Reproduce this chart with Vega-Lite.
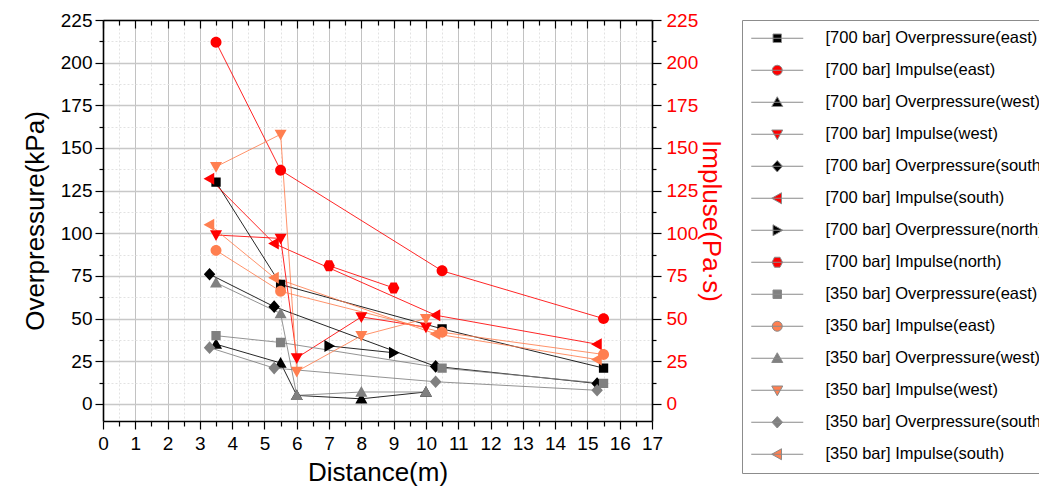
{
  "$schema": "https://vega.github.io/schema/vega-lite/v6.json",
  "autosize": "none",
  "width": 549,
  "height": 401,
  "padding": {"left": 103, "top": 20, "right": 387, "bottom": 82},
  "background": "white",
  "config": {
    "font": "'Liberation Sans', Arial, sans-serif",
    "view": {"stroke": null}
  },
  "data": {
    "values": [
      {"series": "[700 bar] Overpressure(east)", "distance": 3.5, "value": 130},
      {"series": "[700 bar] Overpressure(east)", "distance": 5.5, "value": 70},
      {"series": "[700 bar] Overpressure(east)", "distance": 10.5, "value": 44},
      {"series": "[700 bar] Overpressure(east)", "distance": 15.5, "value": 21},
      {"series": "[700 bar] Impulse(east)", "distance": 3.5, "value": 212},
      {"series": "[700 bar] Impulse(east)", "distance": 5.5, "value": 137},
      {"series": "[700 bar] Impulse(east)", "distance": 10.5, "value": 78},
      {"series": "[700 bar] Impulse(east)", "distance": 15.5, "value": 50},
      {"series": "[700 bar] Overpressure(west)", "distance": 3.5, "value": 35},
      {"series": "[700 bar] Overpressure(west)", "distance": 5.5, "value": 24},
      {"series": "[700 bar] Overpressure(west)", "distance": 6, "value": 5},
      {"series": "[700 bar] Overpressure(west)", "distance": 8, "value": 3},
      {"series": "[700 bar] Overpressure(west)", "distance": 10, "value": 7},
      {"series": "[700 bar] Impulse(west)", "distance": 3.5, "value": 99},
      {"series": "[700 bar] Impulse(west)", "distance": 5.5, "value": 97},
      {"series": "[700 bar] Impulse(west)", "distance": 6, "value": 27},
      {"series": "[700 bar] Impulse(west)", "distance": 8, "value": 51},
      {"series": "[700 bar] Impulse(west)", "distance": 10, "value": 45},
      {"series": "[700 bar] Overpressure(south)", "distance": 3.3, "value": 76},
      {"series": "[700 bar] Overpressure(south)", "distance": 5.3, "value": 57},
      {"series": "[700 bar] Overpressure(south)", "distance": 10.3, "value": 22},
      {"series": "[700 bar] Overpressure(south)", "distance": 15.3, "value": 12},
      {"series": "[700 bar] Impulse(south)", "distance": 3.3, "value": 132},
      {"series": "[700 bar] Impulse(south)", "distance": 5.3, "value": 94},
      {"series": "[700 bar] Impulse(south)", "distance": 10.3, "value": 52},
      {"series": "[700 bar] Impulse(south)", "distance": 15.3, "value": 35},
      {"series": "[700 bar] Overpressure(north)", "distance": 7, "value": 34},
      {"series": "[700 bar] Overpressure(north)", "distance": 9, "value": 30},
      {"series": "[700 bar] Impulse(north)", "distance": 7, "value": 81},
      {"series": "[700 bar] Impulse(north)", "distance": 9, "value": 68},
      {"series": "[350 bar] Overpressure(east)", "distance": 3.5, "value": 40},
      {"series": "[350 bar] Overpressure(east)", "distance": 5.5, "value": 36},
      {"series": "[350 bar] Overpressure(east)", "distance": 10.5, "value": 21},
      {"series": "[350 bar] Overpressure(east)", "distance": 15.5, "value": 12},
      {"series": "[350 bar] Impulse(east)", "distance": 3.5, "value": 90},
      {"series": "[350 bar] Impulse(east)", "distance": 5.5, "value": 66},
      {"series": "[350 bar] Impulse(east)", "distance": 10.5, "value": 42},
      {"series": "[350 bar] Impulse(east)", "distance": 15.5, "value": 29},
      {"series": "[350 bar] Overpressure(west)", "distance": 3.5, "value": 71},
      {"series": "[350 bar] Overpressure(west)", "distance": 5.5, "value": 53},
      {"series": "[350 bar] Overpressure(west)", "distance": 6, "value": 5},
      {"series": "[350 bar] Overpressure(west)", "distance": 8, "value": 7},
      {"series": "[350 bar] Overpressure(west)", "distance": 10, "value": 7},
      {"series": "[350 bar] Impulse(west)", "distance": 3.5, "value": 139},
      {"series": "[350 bar] Impulse(west)", "distance": 5.5, "value": 158},
      {"series": "[350 bar] Impulse(west)", "distance": 6, "value": 19},
      {"series": "[350 bar] Impulse(west)", "distance": 8, "value": 40},
      {"series": "[350 bar] Impulse(west)", "distance": 10, "value": 50},
      {"series": "[350 bar] Overpressure(south)", "distance": 3.3, "value": 33},
      {"series": "[350 bar] Overpressure(south)", "distance": 5.3, "value": 21},
      {"series": "[350 bar] Overpressure(south)", "distance": 10.3, "value": 13},
      {"series": "[350 bar] Overpressure(south)", "distance": 15.3, "value": 8},
      {"series": "[350 bar] Impulse(south)", "distance": 3.3, "value": 105},
      {"series": "[350 bar] Impulse(south)", "distance": 5.3, "value": 74},
      {"series": "[350 bar] Impulse(south)", "distance": 10.3, "value": 41},
      {"series": "[350 bar] Impulse(south)", "distance": 15.3, "value": 26}
    ]
  },
  "resolve": {
    "axis": {"x": "independent", "y": "independent"},
    "legend": {"color": "independent", "shape": "independent"}
  },
  "layer": [
    {
      "mark": {"type": "line", "strokeWidth": 1, "opacity": 0.85},
      "encoding": {
        "x": {
          "field": "distance", "type": "quantitative",
          "scale": {"domain": [0, 17], "nice": false, "zero": false},
          "axis": {
            "orient": "bottom",
            "values": [0,0.5,1,1.5,2,2.5,3,3.5,4,4.5,5,5.5,6,6.5,7,7.5,8,8.5,9,9.5,10,10.5,11,11.5,12,12.5,13,13.5,14,14.5,15,15.5,16,16.5,17],
            "labelExpr": "datum.value % 1 === 0 ? '' + datum.value : ''",
            "labelOverlap": false,
            "labelFlush": false,
            "labelFontSize": 19,
            "labelColor": "black",
            "labelPadding": 5,
            "grid": true,
            "gridColor": {"condition": {"test": "datum.value % 1 !== 0", "value": "#e2e2e2"}, "value": "#c2c2c2"},
            "gridDash": {"condition": {"test": "datum.value % 1 !== 0", "value": [2, 2]}, "value": []},
            "gridWidth": 1,
            "tickSize": {"condition": {"test": "datum.value % 1 !== 0", "value": 5}, "value": 8},
            "tickColor": "black",
            "tickWidth": 1.2,
            "domainColor": "black",
            "domainWidth": 1.6,
            "title": "Distance(m)",
            "titleFontSize": 26,
            "titleFontWeight": "normal",
            "titleColor": "black",
            "titlePadding": 6
          }
        },
        "y": {
          "field": "value", "type": "quantitative",
          "scale": {"domain": [-10, 225], "nice": false, "zero": false},
          "axis": {
            "orient": "left",
            "values": [0,12.5,25,37.5,50,62.5,75,87.5,100,112.5,125,137.5,150,162.5,175,187.5,200,212.5,225],
            "labelExpr": "datum.value % 25 === 0 ? '' + datum.value : ''",
            "labelOverlap": false,
            "labelFlush": false,
            "labelFontSize": 19,
            "labelColor": "black",
            "labelPadding": 3,
            "grid": true,
            "gridColor": {"condition": {"test": "datum.value % 25 !== 0", "value": "#e2e2e2"}, "value": "#c8c8c8"},
            "gridDash": {"condition": {"test": "datum.value % 25 !== 0", "value": [2, 2]}, "value": []},
            "gridWidth": {"condition": {"test": "datum.value % 25 !== 0", "value": 1}, "value": 1.5},
            "tickSize": {"condition": {"test": "datum.value % 25 !== 0", "value": 4}, "value": 8},
            "tickColor": "black",
            "tickWidth": 1.2,
            "domainColor": "black",
            "domainWidth": 1.6,
            "title": "Overpressure(kPa)",
            "titleFontSize": 26,
            "titleFontWeight": "normal",
            "titleColor": "black",
            "titlePadding": 12
          }
        },
        "color": {
          "field": "series", "type": "nominal", "legend": null,
          "scale": {
            "domain": ["[700 bar] Overpressure(east)", "[700 bar] Impulse(east)", "[700 bar] Overpressure(west)", "[700 bar] Impulse(west)", "[700 bar] Overpressure(south)", "[700 bar] Impulse(south)", "[700 bar] Overpressure(north)", "[700 bar] Impulse(north)", "[350 bar] Overpressure(east)", "[350 bar] Impulse(east)", "[350 bar] Overpressure(west)", "[350 bar] Impulse(west)", "[350 bar] Overpressure(south)", "[350 bar] Impulse(south)"],
            "range": ["#000000", "#ff0000", "#000000", "#ff0000", "#000000", "#ff0000", "#000000", "#ff0000", "#808080", "#ff7f50", "#808080", "#ff7f50", "#808080", "#ff7f50"]
          }
        }
      }
    },
    {
      "mark": {"type": "point", "filled": true, "opacity": 1, "size": 120},
      "encoding": {
        "x": {
          "field": "distance", "type": "quantitative",
          "axis": {
            "orient": "top",
            "values": [0,0.5,1,1.5,2,2.5,3,3.5,4,4.5,5,5.5,6,6.5,7,7.5,8,8.5,9,9.5,10,10.5,11,11.5,12,12.5,13,13.5,14,14.5,15,15.5,16,16.5,17],
            "labels": false,
            "grid": false,
            "title": null,
            "tickSize": {"condition": {"test": "datum.value % 1 !== 0", "value": -5}, "value": -8},
            "tickColor": "black",
            "tickWidth": 1.2,
            "domainColor": "black",
            "domainWidth": 1.6
          }
        },
        "y": {
          "field": "value", "type": "quantitative",
          "axis": {
            "orient": "right",
            "values": [0,12.5,25,37.5,50,62.5,75,87.5,100,112.5,125,137.5,150,162.5,175,187.5,200,212.5,225],
            "labelExpr": "datum.value % 25 === 0 ? '' + datum.value : ''",
            "labelOverlap": false,
            "labelFlush": false,
            "labelFontSize": 19,
            "labelColor": "#ff0000",
            "labelPadding": 5,
            "grid": false,
            "tickSize": {"condition": {"test": "datum.value % 25 !== 0", "value": 4}, "value": 9},
            "tickColor": "black",
            "tickWidth": 1.2,
            "domainColor": "black",
            "domainWidth": 1.6,
            "title": "Impluse(Pa·s)",
            "titleFontSize": 26,
            "titleFontWeight": "normal",
            "titleColor": "#ff0000",
            "titlePadding": 0
          }
        },
        "color": {
          "field": "series", "type": "nominal",
          "legend": {
            "title": null, "orient": "right",
            "strokeColor": "#8c8c8c", "fillColor": "white", "padding": 10,
            "labelFontSize": 16.5, "labelColor": "black", "labelLimit": 320,
            "symbolSize": 100, "symbolStrokeWidth": 1, "symbolStrokeColor": "#8a8a8a",
            "symbolOffset": 17, "labelOffset": 40, "rowPadding": 15
          }
        },
        "shape": {
          "field": "series", "type": "nominal",
          "legend": {
            "title": null, "orient": "right",
            "strokeColor": "#8c8c8c", "fillColor": "white", "padding": 10,
            "labelFontSize": 16.5, "labelColor": "black", "labelLimit": 320,
            "symbolSize": 100, "symbolStrokeWidth": 1, "symbolStrokeColor": "#8a8a8a",
            "symbolOffset": 17, "labelOffset": 40, "rowPadding": 15
          },
          "scale": {
            "domain": ["[700 bar] Overpressure(east)", "[700 bar] Impulse(east)", "[700 bar] Overpressure(west)", "[700 bar] Impulse(west)", "[700 bar] Overpressure(south)", "[700 bar] Impulse(south)", "[700 bar] Overpressure(north)", "[700 bar] Impulse(north)", "[350 bar] Overpressure(east)", "[350 bar] Impulse(east)", "[350 bar] Overpressure(west)", "[350 bar] Impulse(west)", "[350 bar] Overpressure(south)", "[350 bar] Impulse(south)"],
            "range": [
              "M-5.2,0L5.2,0M-0.85,-0.85L0.85,-0.85L0.85,0.85L-0.85,0.85Z",
              "M-5.2,0L5.2,0M-1,0A1,1,0,1,0,1,0A1,1,0,1,0,-1,0Z",
              "M-5.2,0L5.2,0M0,-1.1L1.1,0.85L-1.1,0.85Z",
              "M-5.2,0L5.2,0M0,1.1L1.1,-0.85L-1.1,-0.85Z",
              "M-5.2,0L5.2,0M0,-1.15L1.05,0L0,1.15L-1.05,0Z",
              "M-5.2,0L5.2,0M-1.1,0L0.85,-1.1L0.85,1.1Z",
              "M-5.2,0L5.2,0M1.1,0L-0.85,-1.1L-0.85,1.1Z",
              "M-5.2,0L5.2,0M-1.05,0L-0.55,-1L0.55,-1L1.05,0L0.55,1L-0.55,1Z",
              "M-5.2,0L5.2,0M-0.85,-0.85L0.85,-0.85L0.85,0.85L-0.85,0.85Z",
              "M-5.2,0L5.2,0M-1,0A1,1,0,1,0,1,0A1,1,0,1,0,-1,0Z",
              "M-5.2,0L5.2,0M0,-1.1L1.1,0.85L-1.1,0.85Z",
              "M-5.2,0L5.2,0M0,1.1L1.1,-0.85L-1.1,-0.85Z",
              "M-5.2,0L5.2,0M0,-1.15L1.05,0L0,1.15L-1.05,0Z",
              "M-5.2,0L5.2,0M-1.1,0L0.85,-1.1L0.85,1.1Z"
            ]
          }
        }
      }
    }
  ]
}
